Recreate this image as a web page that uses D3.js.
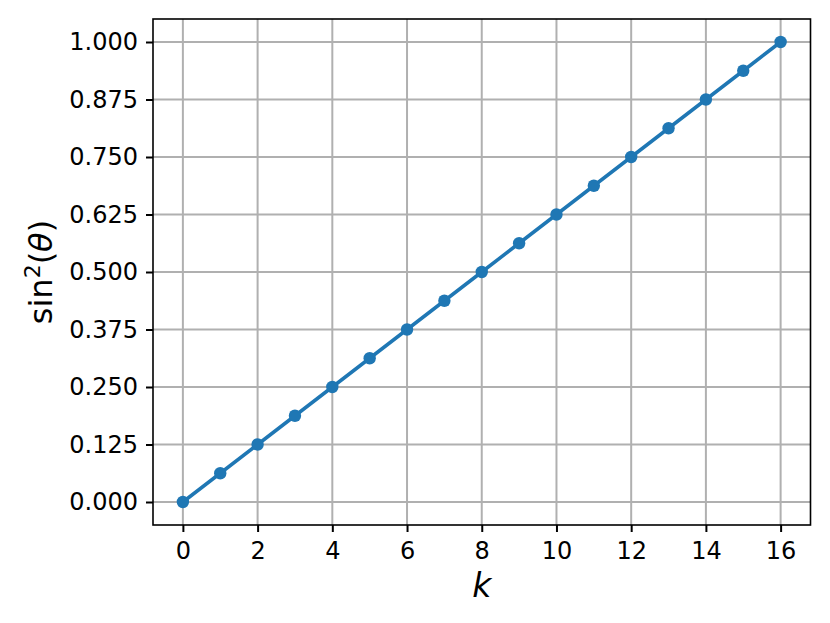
<!DOCTYPE html>
<html>
<head>
<meta charset="utf-8">
<script src="https://cdn.jsdelivr.net/npm/d3@7"></script>
<style>
  body { margin: 0; background: #fff; }
  text { font-family: "DejaVu Sans", sans-serif; }
</style>
</head>
<body>
<svg class="svg-main" width="830" height="623"></svg>
<script>
const kValues = [0, 1, 2, 3, 4, 5, 6, 7, 8, 9, 10, 11, 12, 13, 14, 15, 16];
const sinSq = [0, 0.0625, 0.125, 0.1875, 0.25, 0.3125, 0.375, 0.4375, 0.5,
  0.5625, 0.625, 0.6875, 0.75, 0.8125, 0.875, 0.9375, 1.0];
const xTicks = [0, 2, 4, 6, 8, 10, 12, 14, 16];
const yTicks = [0, 0.125, 0.25, 0.375, 0.5, 0.625, 0.75, 0.875, 1.0];

const svg = d3.select('.svg-main');
const margin = {left: 153, top: 19, right: 810.5, bottom: 525};

const x = d3.scaleLinear().domain([-0.8, 16.8]).range([margin.left, margin.right]);
const y = d3.scaleLinear().domain([-0.05, 1.05]).range([margin.bottom, margin.top]);

const points = kValues.map((k, i) => ({k: k, v: sinSq[i]}));

// grid
const grid = svg.append("g").attr("stroke", "#b0b0b0").attr("stroke-width", 2);
grid.selectAll(".gx").data(xTicks).enter().append("line")
  .attr("x1", (d) => x(d)).attr("x2", (d) => x(d))
  .attr("y1", margin.top).attr("y2", margin.bottom);
grid.selectAll(".gy").data(yTicks).enter().append("line")
  .attr("y1", (d) => y(d)).attr("y2", (d) => y(d))
  .attr("x1", margin.left).attr("x2", margin.right);

// axes
const xAxis = svg.append("g")
  .attr("transform", `translate(0,${margin.bottom})`)
  .call(d3.axisBottom(x).tickValues(xTicks).tickSize(7).tickPadding(10).tickSizeOuter(0));
const yAxis = svg.append("g")
  .attr("transform", `translate(${margin.left},0)`)
  .call(d3.axisLeft(y).tickValues(yTicks).tickFormat(d3.format(".3f")).tickSize(7).tickPadding(8).tickSizeOuter(0));

[xAxis, yAxis].forEach((a) => {
  a.select(".domain").remove();
  a.selectAll("line").attr("stroke", "#000").attr("stroke-width", 2);
  a.selectAll("text").attr("font-size", 24).attr("font-family", "DejaVu Sans").attr("fill", "#000");
});

// line + markers
const line = d3.line().x((d) => x(d.k)).y((d) => y(d.v));
svg.append("path")
  .datum(points)
  .attr("fill", "none")
  .attr("stroke", "#1f77b4")
  .attr("stroke-width", 3.5)
  .attr("d", line);

svg.append("g").selectAll("circle")
  .data(points)
  .enter().append("circle")
    .attr("cx", (d) => x(d.k))
    .attr("cy", (d) => y(d.v))
    .attr("r", 6.2)
    .attr("fill", "#1f77b4");

// frame
svg.append("rect")
  .attr("x", margin.left).attr("y", margin.top)
  .attr("width", margin.right - margin.left)
  .attr("height", margin.bottom - margin.top)
  .attr("fill", "none").attr("stroke", "#000").attr("stroke-width", 1.6);

// labels
svg.append("text")
  .attr("x", (margin.left + margin.right) / 2)
  .attr("y", 597)
  .attr("text-anchor", "middle")
  .attr("font-size", 33)
  .attr("font-style", "italic")
  .text("k");

const yl = svg.append("text")
  .attr("transform", `translate(52,${(margin.top + margin.bottom) / 2}) rotate(-90)`)
  .attr("text-anchor", "middle")
  .attr("font-size", 32);
yl.append("tspan").text("sin");
yl.append("tspan").attr("font-size", 22).attr("dy", -12).text("2");
yl.append("tspan").attr("dy", 12).text("(");
yl.append("tspan").attr("font-style", "italic").text("θ");
yl.append("tspan").text(")");
</script>
</body>
</html>
